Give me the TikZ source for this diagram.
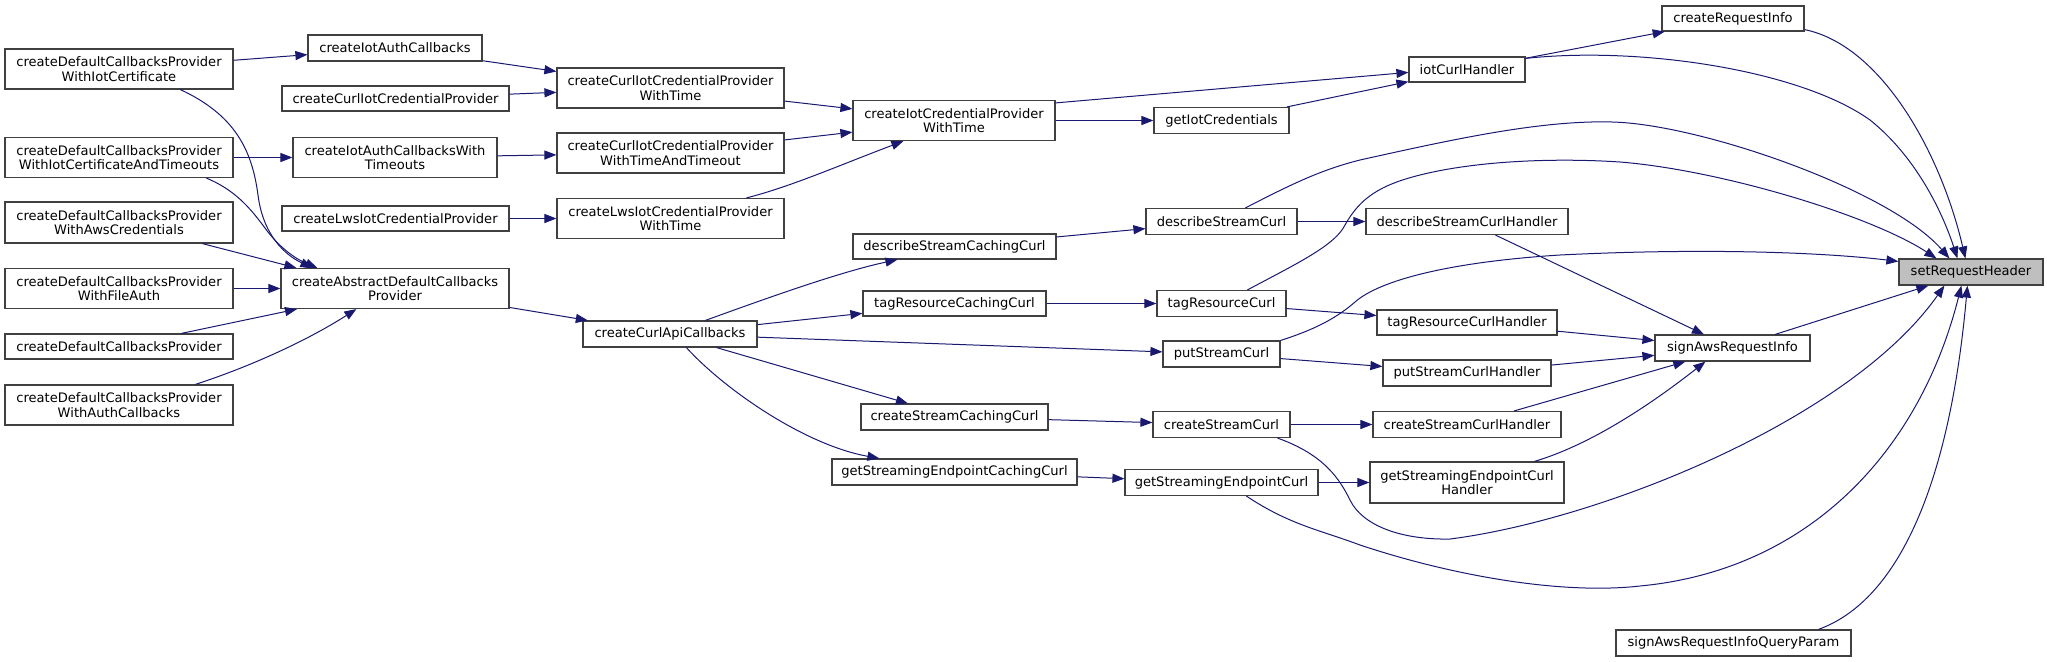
\documentclass[tikz,border=0pt]{standalone}
\usepackage{fontspec}
\setmainfont{DejaVu Sans}
\usetikzlibrary{arrows.meta,calc}
\definecolor{edgecol}{HTML}{191970}
\definecolor{rootfill}{HTML}{BFBFBF}
\begin{document}
\begin{tikzpicture}[x=0.75pt,y=-0.75pt,
 box/.style={draw=black!75,line width=0.9pt,fill=white,inner sep=0pt,align=center,font=\fontsize{9.8pt}{11pt}\selectfont},
 bw/.style={minimum width=#1*0.75pt},
 bh/.style={minimum height=#1*0.75pt},
 calls/.style={draw=edgecol,line width=0.75pt,-{Triangle[length=9pt,width=6.8pt]}}]
\useasboundingbox (0,0) rectangle (2047,661);
% column 1
\node[box,bw=228,bh=40] (n1) at (119,69) {createDefaultCallbacksProvider\\WithIotCertificate};
\node[box,bw=228,bh=40] (n2) at (119,157.5) {createDefaultCallbacksProvider\\WithIotCertificateAndTimeouts};
\node[box,bw=228,bh=41] (n3) at (119,222.5) {createDefaultCallbacksProvider\\WithAwsCredentials};
\node[box,bw=228,bh=40] (n4) at (119,288.5) {createDefaultCallbacksProvider\\WithFileAuth};
\node[box,bw=228,bh=25] (n5) at (119,346.5) {createDefaultCallbacksProvider};
\node[box,bw=228,bh=40] (n6) at (119,405) {createDefaultCallbacksProvider\\WithAuthCallbacks};
% column 2
\node[box,bw=174,bh=26] (a1) at (395,48) {createIotAuthCallbacks};
\node[box,bw=227,bh=25] (a2) at (395.5,98.5) {createCurlIotCredentialProvider};
\node[box,bw=204,bh=40] (a3) at (395,157.5) {createIotAuthCallbacksWith\\Timeouts};
\node[box,bw=227,bh=25] (a4) at (395.5,218.5) {createLwsIotCredentialProvider};
\node[box,bw=228,bh=40] (a5) at (395,288.5) {createAbstractDefaultCallbacks\\Provider};
% column 3
\node[box,bw=227,bh=40] (b1) at (670.5,88) {createCurlIotCredentialProvider\\WithTime};
\node[box,bw=227,bh=40] (b2) at (670.5,153) {createCurlIotCredentialProvider\\WithTimeAndTimeout};
\node[box,bw=227,bh=40] (b3) at (670.5,218.5) {createLwsIotCredentialProvider\\WithTime};
\node[box,bw=174,bh=26] (b4) at (670,334) {createCurlApiCallbacks};
% column 4
\node[box,bw=202,bh=40] (c1) at (954,120.5) {createIotCredentialProvider\\WithTime};
\node[box,bw=203,bh=25] (c2) at (954.5,246.5) {describeStreamCachingCurl};
\node[box,bw=183,bh=25] (c3) at (954.5,303.5) {tagResourceCachingCurl};
\node[box,bw=187,bh=26] (c4) at (954.5,417) {createStreamCachingCurl};
\node[box,bw=245,bh=26] (c5) at (954.5,472) {getStreamingEndpointCachingCurl};
% column 5
\node[box,bw=135,bh=26] (d1) at (1221.5,120.5) {getIotCredentials};
\node[box,bw=151,bh=26] (d2) at (1221.5,221.5) {describeStreamCurl};
\node[box,bw=129,bh=26] (d3) at (1221.5,303.5) {tagResourceCurl};
\node[box,bw=117,bh=26] (d4) at (1221.5,354) {putStreamCurl};
\node[box,bw=137,bh=26] (d5) at (1221.5,424.5) {createStreamCurl};
\node[box,bw=193,bh=26] (d6) at (1221.5,482.5) {getStreamingEndpointCurl};
% column 6
\node[box,bw=116,bh=25] (e1) at (1467,69.5) {iotCurlHandler};
\node[box,bw=202,bh=26] (e2) at (1467,221.5) {describeStreamCurlHandler};
\node[box,bw=180,bh=25] (e3) at (1467,322.5) {tagResourceCurlHandler};
\node[box,bw=168,bh=26] (e4) at (1467,373) {putStreamCurlHandler};
\node[box,bw=188,bh=26] (e5) at (1467,424.5) {createStreamCurlHandler};
\node[box,bw=194,bh=41] (e6) at (1467,482.5) {getStreamingEndpointCurl\\Handler};
% column 7
\node[box,bw=142,bh=25] (f1) at (1733,18.5) {createRequestInfo};
\node[box,bw=155,bh=26] (f2) at (1732.5,348) {signAwsRequestInfo};
\node[box,bw=235,bh=26] (f3) at (1733.5,643) {signAwsRequestInfoQueryParam};
% root
\node[box,bw=144,bh=26,fill=rootfill] (g) at (1971,272) {setRequestHeader};

% edges
\draw[calls] (n1) -- (a1);
\draw[calls] ($(n1.south west)+(176,0)$) .. controls (235,115) and (252,150) .. (258,195) .. controls (263,235) and (285,255) .. ($(a5.north west)+(32,0)$);
\draw[calls] (n2) -- (a3);
\draw[calls] ($(n2.south west)+(202,0)$) .. controls (240,192) and (255,215) .. (268,232) .. controls (282,250) and (298,260) .. ($(a5.north west)+(37,0)$);
\draw[calls] ($(n3.south west)+(198,0)$) -- ($(a5.north west)+(16,0)$);
\draw[calls] (n4) -- (a5);
\draw[calls] (n5) -- (a5);
\draw[calls] ($(n6.north west)+(191,0)$) .. controls (240,370) and (300,345) .. ($(a5.south west)+(76,0)$);
\draw[calls] (a1) -- (b1);
\draw[calls] (a2) -- (b1);
\draw[calls] (a3) -- (b2);
\draw[calls] (a4) -- (b3);
\draw[calls] (a5) -- (b4);
\draw[calls] (b1) -- (c1);
\draw[calls] (b2) -- (c1);
\draw[calls] ($(b3.north west)+(190,0)$) .. controls (790,187) and (840,165) .. ($(c1.south west)+(51,0)$);
\draw[calls] ($(b4.north west)+(123,0)$) .. controls (770,297) and (840,272) .. ($(c2.south west)+(45,0)$);
\draw[calls] (b4) -- (c3);
\draw[calls] (b4) -- (d4);
\draw[calls] (b4) -- (c4);
\draw[calls] ($(b4.south west)+(104,0)$) .. controls (725,390) and (805,445) .. ($(c5.north west)+(48,0)$);
\draw[calls] ($(c1.north east)+(0,3)$) -- ($(e1.north west)+(0,16)$);
\draw[calls] (c1) -- (d1);
\draw[calls] (d1) -- (e1);
\draw[calls] (e1) -- (f1);
\draw[calls] (c2) -- (d2);
\draw[calls] (d2) -- (e2);
\draw[calls] (c3) -- (d3);
\draw[calls] (d3) -- (e3);
\draw[calls] (d4) -- (e4);
\draw[calls] (c4) -- (d5);
\draw[calls] (d5) -- (e5);
\draw[calls] (c5) -- (d6);
\draw[calls] (d6) -- (e6);
\draw[calls] (e2) -- (f2);
\draw[calls] (e3) -- (f2);
\draw[calls] (e4) -- (f2);
\draw[calls] (e5) -- (f2);
\draw[calls] ($(e6.north west)+(165,0)$) .. controls (1590,445) and (1650,405) .. ($(f2.south west)+(51,0)$);
\draw[calls] (f2) -- (g);
% curves into setRequestHeader
\draw[calls] ($(f1.south east)+(0,-2)$) .. controls (1880,45) and (1940,150) .. ($(g.north west)+(67,0)$);
\draw[calls] ($(e1.north east)+(0,2)$) .. controls (1640,46) and (1800,70) .. (1870,120) .. controls (1920,160) and (1945,220) .. ($(g.north west)+(59,0)$);
\draw[calls] ($(d2.north west)+(100,0)$) .. controls (1290,185) and (1320,170) .. (1360,160) .. controls (1450,140) and (1540,120) .. (1612,122) .. controls (1700,124) and (1890,190) .. ($(g.north west)+(51,0)$);
\draw[calls] ($(d3.north west)+(91,0)$) .. controls (1300,262) and (1335,245) .. (1345,225) .. controls (1360,198) and (1380,185) .. (1420,175) .. controls (1480,160) and (1560,158) .. (1620,162) .. controls (1720,170) and (1870,215) .. ($(g.north west)+(38,0)$);
\draw[calls] (d4.north east) .. controls (1320,328) and (1340,315) .. (1355,302) .. controls (1380,280) and (1450,262) .. (1560,255) .. controls (1700,248) and (1820,252) .. ($(g.north west)+(0,3)$);
\draw[calls] ($(d5.south east)+(-13,0)$) .. controls (1325,455) and (1340,480) .. (1350,500) .. controls (1362,525) and (1400,540) .. (1450,539) .. controls (1600,520) and (1850,420) .. ($(g.south west)+(46,0)$);
\draw[calls] ($(d6.south west)+(122,0)$) .. controls (1290,525) and (1320,530) .. (1360,545) .. controls (1450,575) and (1560,595) .. (1640,586) .. controls (1810,570) and (1920,450) .. ($(g.south west)+(63,0)$);
\draw[calls] ($(f3.north west)+(203,0)$) .. controls (1900,600) and (1950,480) .. ($(g.south west)+(69,0)$);
\end{tikzpicture}
\end{document}
